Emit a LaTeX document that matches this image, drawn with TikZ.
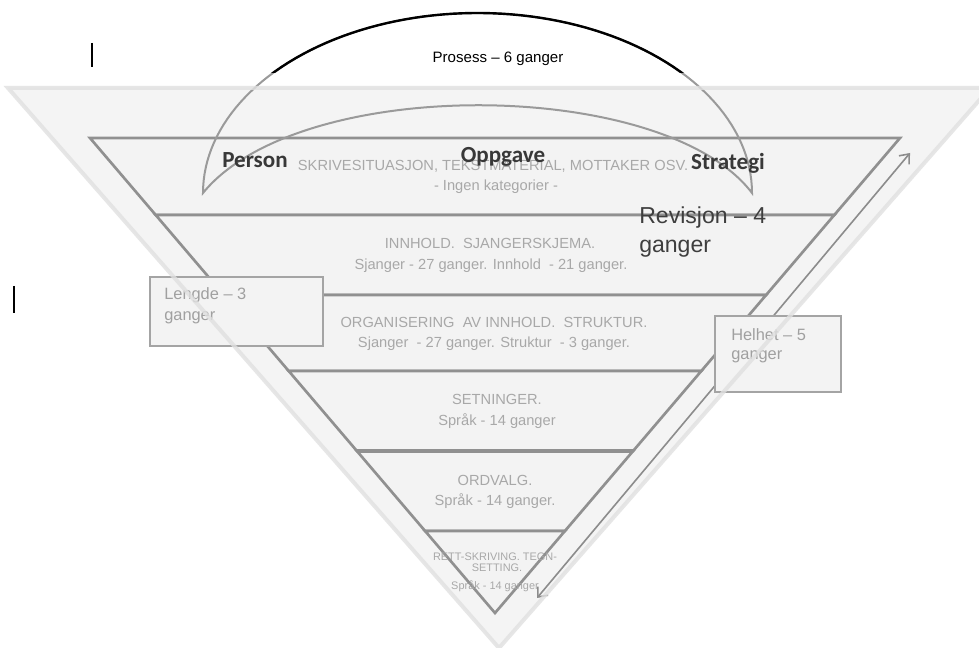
\documentclass[tikz,border=0pt]{standalone}
\usepackage{fontspec}
\setmainfont{Liberation Sans}
\newfontfamily\calib{Carlito}
\usetikzlibrary{arrows.meta}
\definecolor{outerfill}{HTML}{F4F4F4}
\definecolor{outerdraw}{HTML}{E0E0E0}
\definecolor{bandfill}{HTML}{F3F3F3}
\definecolor{banddraw}{HTML}{909090}
\definecolor{bandtext}{HTML}{A8A8A8}
\definecolor{boxdraw}{HTML}{A4A4A4}
\definecolor{boxtext}{HTML}{A0A0A0}
\definecolor{arcgray}{HTML}{9A9A9A}
\definecolor{arrowgray}{HTML}{8C8C8C}
\definecolor{darklab}{HTML}{383838}
\definecolor{revtext}{HTML}{3E3E3E}
\begin{document}
\begin{tikzpicture}[x=0.75pt,y=-0.75pt,
  band/.style={fill=bandfill,draw=banddraw,line width=2pt,line join=miter},
  btext/.style={text=bandtext,inner sep=0pt,font=\fontsize{11}{13}\selectfont},
  bsmall/.style={text=bandtext,inner sep=0pt,font=\fontsize{8.2}{9}\selectfont},
  infobox/.style={draw=boxdraw,fill=bandfill,line width=2.2pt,inner sep=0pt},
  boxlab/.style={text=boxtext,inner sep=0pt,anchor=west,font=\fontsize{12.3}{14}\selectfont},
  keyword/.style={text=darklab,inner sep=0pt,font=\calib\bfseries\fontsize{17.3}{19}\selectfont},
  revlab/.style={text=revtext,inner sep=0pt,anchor=west,font=\fontsize{17.3}{20}\selectfont},
  cursorbar/.style={line width=1.1pt,black}
]
\clip (0,0) rectangle (979,648);
\fill[white] (0,0) rectangle (979,648);

% outer triangle (fill)
\coordinate (oL) at (8,88);
\coordinate (oR) at (990,88);
\coordinate (oA) at (499,648);
\fill[outerfill] (oL) -- (oR) -- (oA) -- cycle;

% bands of the inner triangle
\draw[band] (90,138) -- (900,138) -- (834.3,215) -- (155.7,215) -- cycle;
\draw[band] (155.7,215) -- (834.3,215) -- (766.1,295) -- (223.9,295) -- cycle;
\draw[band] (223.9,295) -- (766.1,295) -- (701.3,371) -- (288.7,371) -- cycle;
\draw[band] (288.7,371) -- (701.3,371) -- (633.1,451) -- (356.9,451) -- cycle;
\draw[band] (356.9,451) -- (633.1,451) -- (564.9,531) -- (425.1,531) -- cycle;
\draw[band] (425.1,531) -- (564.9,531) -- (495,613) -- cycle;
\draw[banddraw,line width=3.4pt] (356.9,451) -- (633.1,451);

% crescent arc
\draw[arcgray,line width=1.5pt,line join=miter]
  plot[domain=180:360,samples=90] ({477.5+274.5*cos(\x)},{193+180*sin(\x)})
  .. controls (665,78) and (300,74) .. (203,193) -- cycle;
\begin{scope}
\clip (0,0) rectangle (979,73);
\draw[black,line width=1.8pt]
  plot[domain=180:360,samples=90] ({477.5+274.5*cos(\x)},{193+180*sin(\x)});
\end{scope}

% band texts
\node[btext] (t1a) at (493,166) {SKRIVESITUASJON, TEKSTMATERIAL, MOTTAKER OSV.};
\node[btext] (t1b) at (496,187) {- Ingen kategorier -};
\node[btext] (t2a) at (490,243) {INNHOLD.\ \ SJANGERSKJEMA.};
\node[btext] (t2b) at (491,266) {Sjanger - 27 ganger. Innhold\ \ - 21 ganger.};
\node[btext] (t3a) at (494,322) {ORGANISERING\ \ AV INNHOLD.\ \ STRUKTUR.};
\node[btext] (t3b) at (494,344) {Sjanger\ \ - 27 ganger. Struktur\ \ - 3 ganger.};
\node[btext] (t4a) at (497,399) {SETNINGER.};
\node[btext] (t4b) at (497,421) {Språk - 14 ganger};
\node[btext] (t5a) at (495,480) {ORDVALG.};
\node[btext] (t5b) at (495,501) {Språk - 14 ganger.};
\node[bsmall] (t6a) at (495,557) {RETT-SKRIVING. TEGN-};
\node[bsmall] (t6b) at (497,568) {SETTING.};
\node[bsmall] (t6c) at (495,586) {Språk - 14 ganger};

% right double arrow (Helhet)
\coordinate (hvA) at (537,598);
\coordinate (hvB) at (910,153);
\draw[arrowgray,line width=1.2pt,{Straight Barb[length=6pt,width=10pt]}-{Straight Barb[length=6pt,width=10pt]}] (hvA) -- (hvB);

% side boxes
\node[infobox,minimum width=129.75pt,minimum height=51.75pt] (lengde) at (236.5,311.5) {};
\node[boxlab] (lengde1) at (164,295) {Lengde – 3};
\node[boxlab] (lengde2) at (164,318) {ganger};
\node[infobox,minimum width=94.5pt,minimum height=57pt] (helhet) at (778,354) {};
\node[boxlab] (helhet1) at (731,335) {Helhet – 5};
\node[boxlab] (helhet2) at (731,357) {ganger};

% outer triangle edge on top
\draw[outerdraw,line width=3pt,opacity=0.8,line join=miter] (oL) -- (oR) -- (oA) -- cycle;

% keywords
\node[keyword] (person) at (255,160) {Person};
\node[keyword] (oppgave) at (503,157) {Oppgave};
\node[keyword] (strategi) at (728,163) {Strategi};

% labels
\node[inner sep=0pt,font=\fontsize{11.3}{13}\selectfont] (prosess) at (498,59) {Prosess – 6 ganger};
\node[revlab] (rev1) at (639,218) {Revisjon – 4};
\node[revlab] (rev2) at (639,249) {ganger};

% text cursors
\coordinate (c1a) at (92,43);
\coordinate (c1b) at (92,67);
\coordinate (c2a) at (14,286);
\coordinate (c2b) at (14,313);
\draw[cursorbar] (c1a) -- (c1b);
\draw[cursorbar] (c2a) -- (c2b);
\end{tikzpicture}
\end{document}
